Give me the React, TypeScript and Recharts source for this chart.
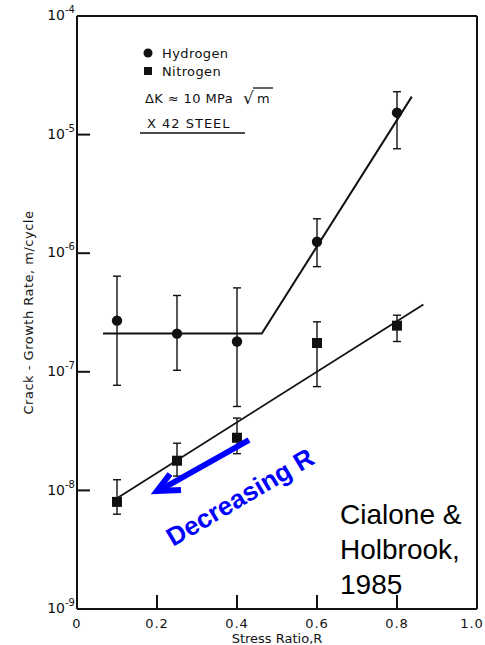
import React from "react";
import {
  ScatterChart,
  Scatter,
  XAxis,
  YAxis,
  ErrorBar,
  ReferenceLine,
} from "recharts";

// Hydrogen tests: stress ratio, growth rate and the ends of each error bar
const H_R = [0.1, 0.25, 0.4, 0.6, 0.8];
const H_RATE = [2.7e-7, 2.1e-7, 1.8e-7, 1.25e-6, 1.53e-5];
const H_LOW = [7.7e-8, 1.03e-7, 5.1e-8, 7.7e-7, 7.6e-6];
const H_HIGH = [6.4e-7, 4.4e-7, 5.1e-7, 1.95e-6, 2.3e-5];

// Nitrogen tests
const N_R = [0.1, 0.25, 0.4, 0.6, 0.8];
const N_RATE = [8.0e-9, 1.78e-8, 2.78e-8, 1.75e-7, 2.45e-7];
const N_LOW = [6.3e-9, 1.32e-8, 2.04e-8, 7.5e-8, 1.8e-7];
const N_HIGH = [1.23e-8, 2.5e-8, 4.07e-8, 2.64e-7, 3.0e-7];

// hand-drawn trend lines
const H_FIT_R = [0.065, 0.462, 0.837];
const H_FIT_RATE = [2.1e-7, 2.1e-7, 2.09e-5];
const N_FIT_R = [0.1, 0.866];
const N_FIT_RATE = [8.6e-9, 3.7e-7];

const X_TICKS = [0, 0.2, 0.4, 0.6, 0.8, 1.0];
const X_TICK_LABELS = ["0", "0.2", "0.4", "0.6", "0.8", "1.0"];
const Y_TICKS = [1e-9, 1e-8, 1e-7, 1e-6, 1e-5, 1e-4];
const Y_TICK_EXPONENTS = ["-9", "-8", "-7", "-6", "-5", "-4"];

const W = 485;
const H = 645;
const M = { top: 16, right: 8, left: 0, bottom: 0 };
const Y_AXIS_W = 77;
const X_AXIS_H = 36;
const PLOT_BOTTOM = H - M.bottom - X_AXIS_H;
const INK = "#111";
const LABEL_FONT = "'DejaVu Sans', sans-serif";

const points = (rs: number[], rates: number[], lows: number[], highs: number[]) =>
  rs.map((r, i) => ({
    r,
    rate: rates[i],
    err: [rates[i] - lows[i], highs[i] - rates[i]],
  }));

const hydrogen = points(H_R, H_RATE, H_LOW, H_HIGH);
const nitrogen = points(N_R, N_RATE, N_LOW, N_HIGH);
const hydrogenFit = H_FIT_R.map((r, i) => ({ r, rate: H_FIT_RATE[i] }));
const nitrogenFit = N_FIT_R.map((r, i) => ({ r, rate: N_FIT_RATE[i] }));

const Dot = (p: any) => <circle cx={p.cx} cy={p.cy} r={5.2} fill={INK} />;
const Square = (p: any) => (
  <rect x={p.cx - 5} y={p.cy - 5} width={10} height={10} fill={INK} />
);
const NoMark = () => <g />;

function XTick({ x, payload }: any) {
  const i = X_TICKS.indexOf(payload.value);
  // the last label sits on the page edge, nudge it in
  const nudge = payload.value === 1 ? -5 : 0;
  return (
    <text
      x={x + nudge}
      y={PLOT_BOTTOM + 14}
      dy="0.35em"
      textAnchor="middle"
      fontSize={13}
      letterSpacing={1}
      fontFamily={LABEL_FONT}
      fill={INK}
    >
      {X_TICK_LABELS[i]}
    </text>
  );
}

function YTick({ y, payload }: any) {
  const i = Y_TICKS.indexOf(payload.value);
  return (
    <text x={75} y={y} textAnchor="end" fontSize={14} fontFamily={LABEL_FONT} fill={INK}>
      <tspan dy="0.3em">10</tspan>
      <tspan dy={-7} fontSize={10}>
        {Y_TICK_EXPONENTS[i]}
      </tspan>
    </text>
  );
}

function Notes() {
  const t = { fontFamily: LABEL_FONT, fill: INK, fontSize: 13, letterSpacing: 0.4 };
  return (
    <svg
      width={W}
      height={H}
      style={{ position: "absolute", left: 0, top: 0, pointerEvents: "none" }}
    >
      <circle cx={148} cy={53} r={4.5} fill={INK} />
      <text x={162} y={58} {...t}>Hydrogen</text>
      <rect x={144} y={67} width={8} height={8} fill={INK} />
      <text x={162} y={76} {...t}>Nitrogen</text>
      <text x={145} y={103} {...t}>ΔK ≈ 10 MPa</text>
      <text x={243} y={104} {...t} fontSize={17} letterSpacing={0}>√</text>
      <text x={257} y={103} {...t} letterSpacing={0}>m</text>
      <line x1={253} x2={273} y1={88} y2={88} stroke={INK} strokeWidth={1.3} />
      <text x={147} y={128} {...t} letterSpacing={1}>X 42 STEEL</text>
      <line x1={140} x2={245} y1={133} y2={133} stroke={INK} strokeWidth={1.5} />

      <g stroke="#0000ff" strokeWidth={6} fill="none">
        <line x1={249} y1={440} x2={160} y2={490} />
        <polyline points="170,474 157,491 181,490" strokeLinejoin="miter" />
      </g>
      <text
        x={240}
        y={497}
        dy="0.35em"
        textAnchor="middle"
        transform="rotate(-30.5 240 497)"
        fontFamily="'Liberation Sans', Arial, sans-serif"
        fontWeight="bold"
        fontSize={26}
        fill="#0000ff"
      >
        Decreasing R
      </text>

      <g fontFamily="'Liberation Sans', Arial, sans-serif" fontSize={28} fill="#000">
        <text x={340} y={524}>Cialone &amp;</text>
        <text x={340} y={559}>Holbrook,</text>
        <text x={340} y={594}>1985</text>
      </g>
    </svg>
  );
}

export default function App() {
  return (
    <div style={{ position: "absolute", left: 0, top: 0, width: W, height: H, background: "#fff" }}>
      <ScatterChart width={W} height={H} margin={M}>
        <XAxis
          dataKey="r"
          type="number"
          domain={[0, 1]}
          ticks={X_TICKS}
          interval={0}
          height={X_AXIS_H}
          tickSize={-14}
          tickLine={{ stroke: INK, strokeWidth: 2 }}
          tick={<XTick />}
          axisLine={{ stroke: INK, strokeWidth: 2 }}
          label={{
            value: "Stress Ratio,R",
            position: "insideBottom",
            offset: 2,
            fontSize: 13,
            fontFamily: LABEL_FONT,
            fill: INK,
          }}
        />
        <YAxis
          dataKey="rate"
          type="number"
          scale="log"
          domain={[1e-9, 1e-4]}
          allowDataOverflow
          ticks={Y_TICKS}
          interval={0}
          width={Y_AXIS_W}
          tickSize={-13}
          tickLine={{ stroke: INK, strokeWidth: 2 }}
          tick={<YTick />}
          axisLine={{ stroke: INK, strokeWidth: 2 }}
          label={{
            value: "Crack - Growth Rate, m/cycle",
            angle: -90,
            position: "center",
            dx: -10,
            fontSize: 13,
            letterSpacing: 0.5,
            fontFamily: LABEL_FONT,
            fill: INK,
          }}
        />
        <ReferenceLine y={1e-4} stroke={INK} strokeWidth={2} />
        <ReferenceLine x={1} stroke={INK} strokeWidth={2} />

        <Scatter
          data={hydrogenFit}
          shape={NoMark}
          line={{ stroke: INK, strokeWidth: 2 }}
          isAnimationActive={false}
        />
        <Scatter
          data={nitrogenFit}
          shape={NoMark}
          line={{ stroke: INK, strokeWidth: 1.8 }}
          isAnimationActive={false}
        />
        <Scatter data={hydrogen} shape={Dot} isAnimationActive={false}>
          <ErrorBar dataKey="err" direction="y" width={4} stroke={INK} strokeWidth={1.4} />
        </Scatter>
        <Scatter data={nitrogen} shape={Square} isAnimationActive={false}>
          <ErrorBar dataKey="err" direction="y" width={4} stroke={INK} strokeWidth={1.4} />
        </Scatter>
      </ScatterChart>
      <Notes />
    </div>
  );
}
